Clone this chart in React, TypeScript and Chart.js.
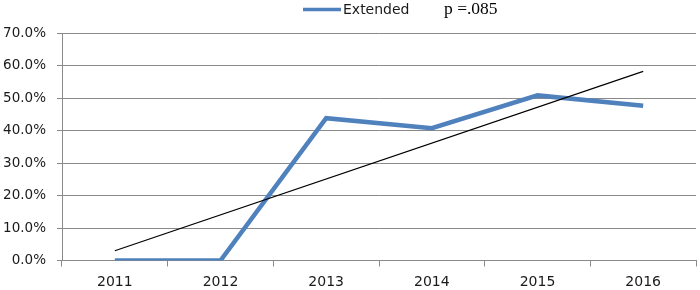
import React, { useEffect, useRef } from "react";
import { Chart, registerables } from "chart.js";

Chart.register(...registerables);

const categories = ["2011", "2012", "2013", "2014", "2015", "2016"];
const extendedValues = [0, 0, 0.438, 0.407, 0.508, 0.476];
const trendValues: (number | null)[] = [0.03, null, null, null, null, 0.582];
const legendLabel = "Extended";
const pValueText = "p =.085";
const yTickMax = 0.7;
const yTickStep = 0.1;

const BLUE = "#4F81BD";
const GRID = "#8a8a8a";
const TEXT = "#1a1a1a";
const SANS = "'DejaVu Sans', sans-serif";

const legendPlugin = {
  id: "customLegend",
  afterDraw(chart: any) {
    const ctx = chart.ctx;
    ctx.save();
    ctx.strokeStyle = BLUE;
    ctx.lineWidth = 3.5;
    ctx.beginPath();
    ctx.moveTo(303, 9.5);
    ctx.lineTo(341, 9.5);
    ctx.stroke();
    ctx.fillStyle = TEXT;
    ctx.font = `14px ${SANS}`;
    ctx.textBaseline = "alphabetic";
    ctx.textAlign = "left";
    ctx.fillText(legendLabel, 343, 14);
    ctx.font = "17.5px 'Liberation Serif', serif";
    ctx.fillStyle = "#000";
    ctx.fillText(pValueText, 444, 14);
    ctx.restore();
  },
};

export default function App() {
  const ref = useRef<HTMLCanvasElement | null>(null);

  useEffect(() => {
    document.body.style.margin = "0";
    const canvas = ref.current;
    if (!canvas) return;
    const chart = new Chart(canvas, {
      type: "line",
      data: {
        labels: categories,
        datasets: [
          {
            label: legendLabel,
            data: extendedValues,
            borderColor: BLUE,
            backgroundColor: BLUE,
            borderWidth: 4.5,
            pointRadius: 0,
            tension: 0,
            order: 2,
          },
          {
            label: "Trend",
            data: trendValues,
            borderColor: "#000",
            borderWidth: 1.2,
            pointRadius: 0,
            spanGaps: true,
            tension: 0,
            order: 1,
          },
        ],
      },
      options: {
        animation: false,
        responsive: false,
        devicePixelRatio: 1,
        layout: { padding: { top: 33, right: 4, bottom: 0, left: 0 } },
        plugins: {
          legend: { display: false },
          tooltip: { enabled: false },
          title: { display: false },
        },
        scales: {
          x: {
            type: "category",
            offset: true,
            grid: {
              display: true,
              drawOnChartArea: false,
              drawTicks: true,
              tickLength: 6,
              color: GRID,
              offset: true,
            },
            border: { display: true, color: GRID, width: 1 },
            ticks: {
              color: TEXT,
              font: { family: SANS, size: 14 },
              padding: 7,
              maxRotation: 0,
              autoSkip: false,
            },
            afterFit(scale: any) {
              scale.height = 29.5;
            },
          },
          y: {
            min: 0,
            max: yTickMax,
            grid: {
              color: GRID,
              lineWidth: 1,
              drawTicks: true,
              tickLength: 5,
            },
            border: { display: true, color: GRID, width: 1 },
            ticks: {
              stepSize: yTickStep,
              color: TEXT,
              font: { family: SANS, size: 13.5 },
              padding: 11,
              callback: (v: any) => (Number(v) * 100).toFixed(1) + "%",
            },
            afterFit(scale: any) {
              scale.width = 62;
            },
          },
        },
      },
      plugins: [legendPlugin],
    });
    return () => chart.destroy();
  }, []);

  return (
    <div style={{ position: "absolute", left: 0, top: 0, width: 700, height: 290, background: "#fff" }}>
      <canvas ref={ref} width={700} height={290} style={{ width: 700, height: 290, display: "block" }} />
    </div>
  );
}
